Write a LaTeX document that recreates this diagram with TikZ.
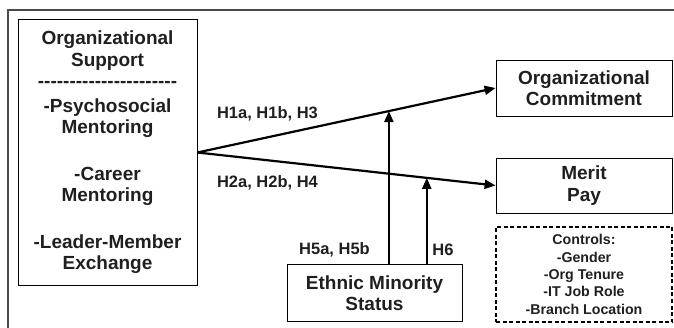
\documentclass[tikz,border=0pt]{standalone}
\usepackage{fontspec}
\setmainfont{Liberation Sans}
\usetikzlibrary{arrows.meta,calc}
\newcommand\hy{\mbox{-}}
\newcommand\hyline{\hy\hy\hy\hy\hy\hy\hy\hy\hy\hy\hy\hy\hy\hy\hy\hy\hy\hy\hy\hy\hy\hy}
\begin{document}
\begin{tikzpicture}[x=1pt,y=-1pt,
  box/.style={draw=black,line width=0.8pt,align=center,inner sep=0pt,text=black!88,
    font=\fontsize{19}{21.5}\selectfont\bfseries},
  lbl/.style={inner sep=0pt,text=black!88,font=\fontsize{16.5}{19}\selectfont\bfseries},
  arr/.style={line width=2.2pt,-{Triangle[length=11pt,width=9pt]}}]
\useasboundingbox (0,0) rectangle (674,328);
\draw[line width=1.2pt,black!70] (8,328) -- (8,10) -- (674,10);
\node[box,minimum width=179pt,minimum height=266pt] (sup) at (107.5,152.5)
  {Organizational\\Support\\\hyline\\[3pt]-Psychosocial\\Mentoring\\[25pt]-Career\\Mentoring\\[25pt]-Leader-Member\\Exchange};
\node[box,minimum width=176pt,minimum height=56pt] (oc) at (584,88) {Organizational\\Commitment};
\node[box,minimum width=176pt,minimum height=55pt] (mp) at (584,185.5) {Merit\\Pay};
\node[box,dashed,dash pattern=on 4pt off 2.5pt,line width=1.3pt,minimum width=176pt,minimum height=95pt,
  font=\fontsize{14.2}{17.3}\selectfont\bfseries] (ctrl) at (584,274.5)
  {Controls:\\-Gender\\-Org Tenure\\-IT Job Role\\-Branch Location};
\node[box,minimum width=175pt,minimum height=57pt] (em) at (374.5,293) {Ethnic Minority\\Status};
\draw[arr] (sup.east) -- (oc.west);
\draw[arr] (sup.east) -- (mp.west);
\coordinate (m1) at ($(sup.east)!0.6421!(oc.west)$);
\coordinate (m2) at ($(sup.east)!0.7692!(mp.west)$);
\draw[arr] (em.north -| m1) -- (m1);
\draw[arr] (em.north -| m2) -- (m2);
\node[lbl] (l1) at (267.5,114) {H1a, H1b, H3};
\node[lbl] (l2) at (267.5,183) {H2a, H2b, H4};
\node[lbl] (l5) at (334.5,250) {H5a, H5b};
\node[lbl] (l6) at (443,250) {H6};
\end{tikzpicture}
\end{document}
